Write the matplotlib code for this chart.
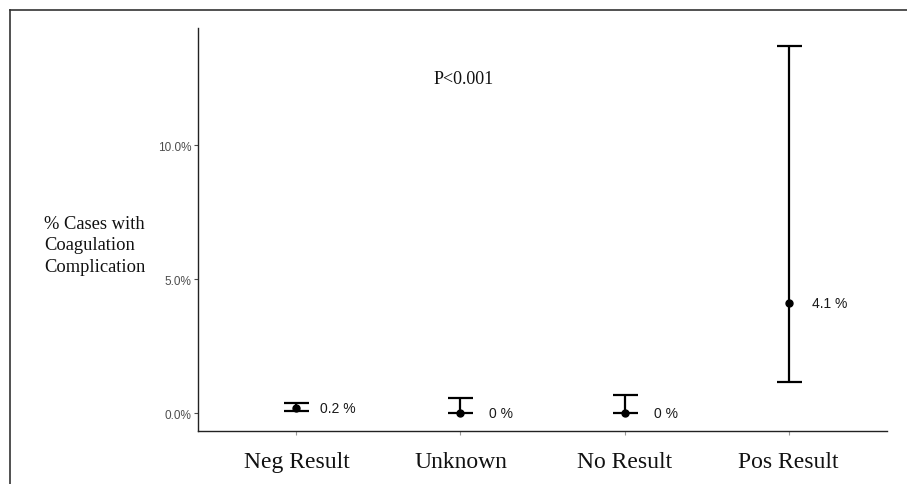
import matplotlib
matplotlib.use("Agg")
import matplotlib.pyplot as plt
from matplotlib.lines import Line2D
from matplotlib.ticker import FuncFormatter

# data (percent of cases with coagulation complication, with CI)
categories = ["Neg Result", "Unknown", "No Result", "Pos Result"]
pct = [0.19, 0.0, 0.0, 4.1]
ci_low = [0.07, 0.0, 0.0, 1.15]
ci_high = [0.37, 0.56, 0.66, 13.68]
point_labels = ["0.2 %", "0 %", "0 %", "4.1 %"]
y_ticks = [0.0, 5.0, 10.0]

fig = plt.figure(figsize=(9.07, 4.85), dpi=100)
ax = fig.add_axes([198 / 907, 1 - 432 / 485, (887 - 198) / 907, (432 - 29) / 485])

xs = list(range(1, len(categories) + 1))
yerr = [[p - lo for p, lo in zip(pct, ci_low)],
        [hi - p for p, hi in zip(pct, ci_high)]]
ax.errorbar(xs, pct, yerr=yerr, fmt="o", color="black", ms=5,
            elinewidth=1.6, capsize=9, capthick=1.6)

for x, y, lab in zip(xs, pct, point_labels):
    ax.text(x + 0.25, y, lab, ha="center", va="center", fontsize=10,
            family="Liberation Sans", color="#1a1a1a")

ax.set_xlim(0.4, 4.6)
ax.set_ylim(-0.67, 14.37)
ax.set_xticks(xs)
ax.set_xticklabels(categories, family="Liberation Serif", fontsize=17, color="#111111")
ax.set_yticks(y_ticks)
ax.yaxis.set_major_formatter(FuncFormatter(lambda v, _: f"{v:.1f}%"))
for t in ax.get_yticklabels():
    t.set_family("Liberation Sans")
ax.tick_params(axis="y", labelsize=8.5, colors="#4d4d4d", length=3, width=0.8, pad=2)
ax.tick_params(axis="x", length=3, width=0.8, color="#999999", pad=11.5)

for side in ["top", "right"]:
    ax.spines[side].set_visible(False)
for side in ["left", "bottom"]:
    ax.spines[side].set_linewidth(1.0)
    ax.spines[side].set_color("#222222")

fig.text(44 / 907, 1 - 246 / 485, "% Cases with\nCoagulation\nComplication",
         ha="left", va="center", family="Liberation Serif", fontsize=13.3,
         linespacing=1.35, color="#111111")
fig.text(464 / 907, 1 - 80 / 485, "P<0.001", ha="center", va="center",
         family="Liberation Serif", fontsize=13, color="#111111")

# outer frame (top and left edges)
fig.add_artist(Line2D([10 / 907, 1], [1 - 11 / 485] * 2, color="#333333", lw=1.2,
                      transform=fig.transFigure))
fig.add_artist(Line2D([10 / 907] * 2, [0, 1 - 11 / 485], color="#333333", lw=1.2,
                      transform=fig.transFigure))

fig.savefig("out.png", dpi=100)
